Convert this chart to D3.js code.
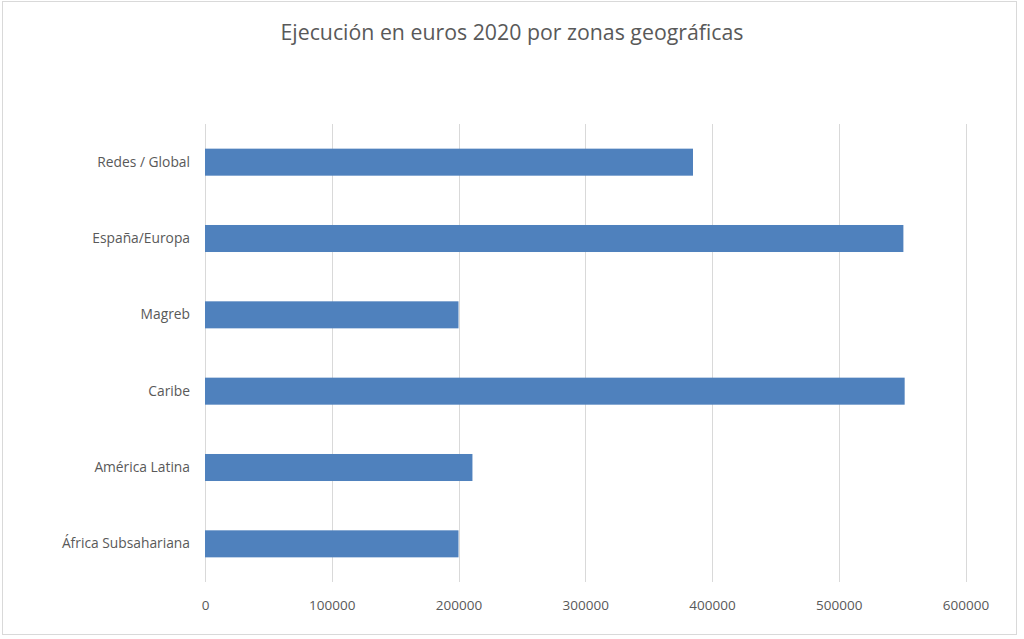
<!DOCTYPE html>
<html>
<head>
<meta charset="utf-8">
<script src="https://cdn.jsdelivr.net/npm/d3@7"></script>
<style>
  body { margin: 0; background: #fff; }
  text { font-family: "Open Sans", sans-serif; fill: #595959; }
</style>
</head>
<body>
<div id="chart"></div>
<script>
// data
const title = 'Ejecución en euros 2020 por zonas geográficas';
const zones = ['Redes / Global', 'España/Europa', 'Magreb', 'Caribe', 'América Latina', 'África Subsahariana'];
const amounts = [385000, 551000, 200000, 552000, 211000, 200000];
const xTicks = [0, 100000, 200000, 300000, 400000, 500000, 600000];

const width = 1024;
const height = 639;
const margin = {top: 124, right: 58, bottom: 57, left: 205};

const svg = d3.select('#chart').append('svg')
    .attr('width', width)
    .attr('height', height);

// outer frame
svg.append('rect')
    .attr('x', 2.5).attr('y', 1.5)
    .attr('width', 1014).attr('height', 633)
    .attr('fill', '#fff')
    .attr('stroke', '#d9d9d9');

svg.append('text')
    .attr('x', 512).attr('y', 40)
    .attr('text-anchor', 'middle')
    .style('font-size', '21.3px')
    .text(title);

const x = d3.scaleLinear()
    .domain([0, 600000])
    .range([margin.left, width - margin.right - 0.5]);

const y = d3.scaleBand()
    .domain(zones)
    .range([margin.top, height - margin.bottom])
    .paddingInner(0.646)
    .paddingOuter(0.323);

// grid
svg.append('g')
    .selectAll('line')
    .data(xTicks)
    .join('line')
    .attr('x1', d => Math.round(x(d)) + 0.5)
    .attr('x2', d => Math.round(x(d)) + 0.5)
    .attr('y1', margin.top)
    .attr('y2', height - margin.bottom)
    .attr('stroke', '#d9d9d9')
    .attr('stroke-width', 1);

// bars
svg.append('g')
    .selectAll('rect')
    .data(zones)
    .join('rect')
    .attr('x', x(0))
    .attr('y', d => y(d))
    .attr('width', (d, i) => x(amounts[i]) - x(0))
    .attr('height', y.bandwidth())
    .attr('fill', '#4f81bd');

// x axis labels
const xAxis = d3.axisBottom(x)
    .tickValues(xTicks)
    .tickFormat(d3.format('d'))
    .tickSize(0)
    .tickPadding(18);

svg.append('g')
    .attr('transform', `translate(0,${height - margin.bottom})`)
    .call(xAxis)
    .call(g => g.select('.domain').remove())
    .call(g => g.selectAll('text')
        .style('font-size', '13.5px')
        .attr('fill', '#595959'));

// category labels
const yAxis = d3.axisLeft(y)
    .tickSize(0)
    .tickPadding(15);

svg.append('g')
    .attr('transform', `translate(${margin.left},0)`)
    .call(yAxis)
    .call(g => g.select('.domain').remove())
    .call(g => g.selectAll('text')
        .style('font-size', '13.8px')
        .attr('fill', '#595959'));
</script>
</body>
</html>
